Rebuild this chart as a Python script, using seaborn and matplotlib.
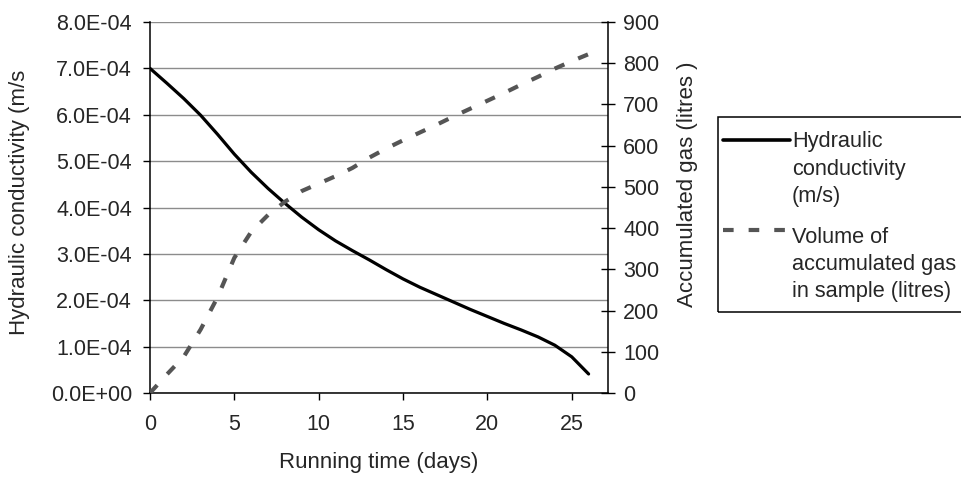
import matplotlib
matplotlib.use("Agg")
import matplotlib.pyplot as plt
from matplotlib.lines import Line2D
from matplotlib.patches import Rectangle
from matplotlib.ticker import FuncFormatter, MultipleLocator
import pandas as pd
import seaborn as sns

# Running time (days)
days = [0, 1, 2, 3, 4, 5, 6, 7, 8, 9, 10, 11, 12, 13, 14, 15, 16, 17, 18,
        19, 20, 21, 22, 23, 24, 25, 26]
# Hydraulic conductivity (m/s)
conductivity = [7.00e-4, 6.68e-4, 6.35e-4, 5.99e-4, 5.58e-4, 5.15e-4, 4.76e-4,
                4.41e-4, 4.09e-4, 3.79e-4, 3.52e-4, 3.28e-4, 3.07e-4, 2.87e-4,
                2.66e-4, 2.46e-4, 2.28e-4, 2.12e-4, 1.96e-4, 1.80e-4, 1.65e-4,
                1.50e-4, 1.36e-4, 1.21e-4, 1.03e-4, 0.78e-4, 0.41e-4]
# Volume of accumulated gas in sample (litres)
gas_volume = [0, 45, 88, 154, 232, 328, 391, 432, 464, 490, 508, 526, 546,
              571, 593, 613, 632, 651, 671, 690, 709, 728, 748, 767, 787, 805,
              822]

legend_solid = ["Hydraulic", "conductivity", "(m/s)"]
legend_dashed = ["Volume of", "accumulated gas", "in sample (litres)"]

df = pd.DataFrame({"days": days, "k": conductivity, "gas": gas_volume})

sns.set_theme(style="white")
plt.rcParams["font.family"] = ["Liberation Sans", "DejaVu Sans"]
plt.rcParams["axes.unicode_minus"] = False

W, H = 962, 478
fig = plt.figure(figsize=(W / 100, H / 100), dpi=100)
ax = fig.add_axes([150 / W, 1 - 393 / H, 458 / W, 371 / H])
ax2 = ax.twinx()

tick_fs = 15.5
label_fs = 16
legend_fs = 15.7
gas_color = "#555555"
dash = (2.55, 3.6)

sns.lineplot(data=df, x="days", y="k", ax=ax, color="black", lw=2.3,
             legend=False)
sns.lineplot(data=df, x="days", y="gas", ax=ax2, color=gas_color, lw=3.0,
             legend=False)
ax2.lines[0].set_dashes(dash)
ax2.lines[0].set_dash_capstyle("butt")

ax.set_xlim(0, 27.15)
ax.set_ylim(0, 8e-4)
ax2.set_ylim(0, 900)

ax.xaxis.set_major_locator(MultipleLocator(5))
ax.yaxis.set_major_locator(MultipleLocator(1e-4))
ax2.yaxis.set_major_locator(MultipleLocator(100))
ax.yaxis.set_major_formatter(FuncFormatter(lambda v, p: f"{v:.1E}"))

ax.grid(axis="y", color="#8c8c8c", lw=1.0)
ax.set_axisbelow(True)

for a in (ax, ax2):
    for s in a.spines.values():
        s.set_visible(False)
ax.spines["left"].set_visible(True)
ax.spines["bottom"].set_visible(True)
ax2.spines["right"].set_visible(True)
for s in (ax.spines["left"], ax.spines["bottom"], ax2.spines["right"]):
    s.set_color("black")
    s.set_linewidth(1.1)

ax.tick_params(axis="y", direction="out", length=5, width=1, color="black",
               labelsize=tick_fs, pad=8, left=True)
ax.tick_params(axis="x", direction="out", length=5, width=1, color="black",
               labelsize=tick_fs, pad=10, bottom=True)
ax2.tick_params(axis="y", direction="inout", length=10, width=1,
                color="black", labelsize=tick_fs, pad=6, right=True)

ax.set_xlabel("Running time (days)", fontsize=label_fs)
ax.set_ylabel("Hydraulic conductivity (m/s", fontsize=label_fs)
ax2.set_ylabel("Accumulated gas (litres )", fontsize=label_fs)
ax.xaxis.set_label_coords(0.5, -0.158)
ax.yaxis.set_label_coords(-0.262, 0.515)
ax2.yaxis.set_label_coords(1.151, 0.562)

# Legend drawn as a framed box running off the right edge
def fx(px):
    return px / W

def fy(py):
    return 1 - py / H

fig.patches.append(Rectangle((fx(718), fy(312)), fx(300), (312 - 117) / H,
                             transform=fig.transFigure, fill=False,
                             edgecolor="black", lw=1.1))
fig.add_artist(Line2D([fx(723), fx(790)], [fy(139.5), fy(139.5)],
                      transform=fig.transFigure, color="black", lw=2.6))
dl = Line2D([fx(723), fx(788)], [fy(230), fy(230)],
            transform=fig.transFigure, color=gas_color, lw=3.0)
dl.set_dashes(dash)
dl.set_dash_capstyle("butt")
fig.add_artist(dl)

for i, line in enumerate(legend_solid):
    fig.text(fx(792), fy(147 + 27.5 * i), line, fontsize=legend_fs,
             va="baseline", ha="left")
for i, line in enumerate(legend_dashed):
    fig.text(fx(792), fy(243 + 27 * i), line, fontsize=legend_fs,
             va="baseline", ha="left")

fig.savefig("out.png", dpi=100)
